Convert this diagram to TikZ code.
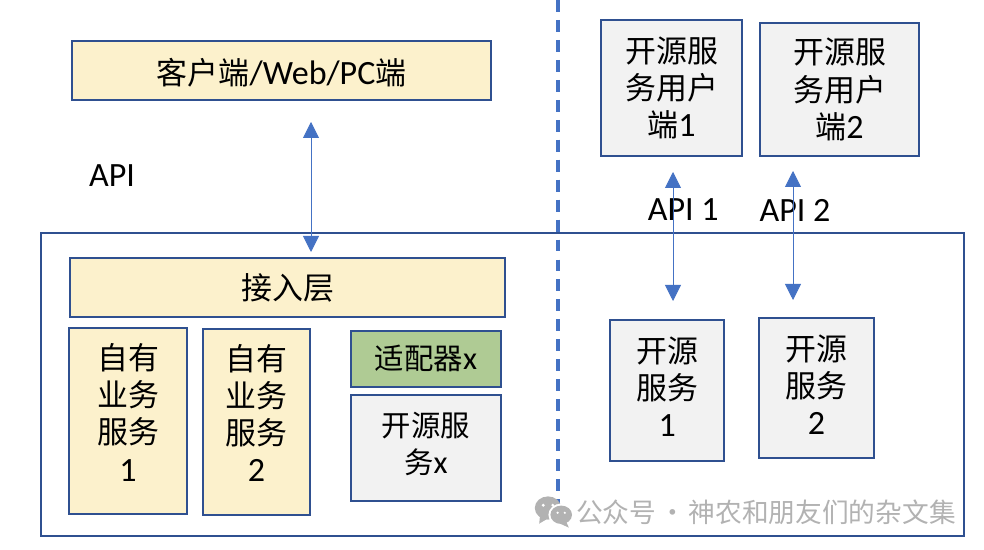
\documentclass[tikz,border=0pt]{standalone}
\usepackage{fontspec}
\setmainfont[Scale=1.1]{Carlito}
\newfontfamily\cjk{Noto Sans CJK SC}
\usepackage{tikz}
\usetikzlibrary{arrows.meta,positioning}
\definecolor{Marco}{HTML}{2F5090}
\definecolor{Azul}{HTML}{4472C4}
\definecolor{Crema}{HTML}{FCF1CC}
\definecolor{Verde}{HTML}{AFCB94}
\definecolor{Gris}{HTML}{F2F2F2}
\definecolor{Marca}{HTML}{B2B2B2}

\begin{document}
\begin{tikzpicture}[
  font=\fontsize{22}{26.5}\selectfont,
  box/.style={draw=Marco,line width=1.4pt,align=center,inner sep=0pt,outer sep=0pt},
  arr/.style={{Triangle[length=4mm,width=4mm]}-{Triangle[length=4mm,width=4mm]},line width=0.6pt,Azul},
  divider/.style={Azul,line width=2.4pt,dash pattern=on 8.5pt off 5.7pt}
]
  \useasboundingbox (0,0) rectangle (24.6,13.75);
  \fill[white] (0,0) rectangle (24.6,13.75);

  % Marco exterior y linea divisoria.
  \node[box,minimum width=23.08cm,minimum height=7.58cm] (platform) at (12.56,4.14) {};
  \coordinate (dividerTop) at (13.95,13.75);
  \coordinate (dividerEnd) at (13.95,1.125);
  \draw[divider] (dividerTop)--(dividerEnd);

  % Lado izquierdo.
  \node[box,fill=Crema,minimum width=10.48cm,minimum height=1.48cm,text height=22pt,text depth=2.5pt] (client) at (7.04,11.99)
    {{\cjk 客户端}/Web/PC{\cjk 端}};
  \node[box,fill=Crema,minimum width=10.88cm,minimum height=1.48cm] (access) at (7.19,6.56)
    {{\cjk 接入层}};
  \node[box,fill=Crema,minimum width=2.95cm,minimum height=4.65cm] (own1) at (3.20,3.22)
    {{\cjk 自有}\\{\cjk 业务}\\{\cjk 服务}\\1\\[-13.7pt]\mbox{}};
  \node[box,fill=Crema,minimum width=2.68cm,minimum height=4.65cm] (own2) at (6.41,3.20)
    {{\cjk 自有}\\{\cjk 业务}\\{\cjk 服务}\\2\\[-13.7pt]\mbox{}};
  \node[box,fill=Verde,minimum width=3.75cm,minimum height=1.40cm,font=\fontsize{20.9}{26}\selectfont] (adapter) at (10.65,4.78)
    {{\cjk 适配器}x};
  \node[box,fill=Gris,minimum width=3.75cm,minimum height=2.65cm,font=\fontsize{20.9}{26}\selectfont] (ossx) at (10.65,2.55)
    {{\cjk 开源服}\\{\cjk 务}x\\[-19pt]\mbox{}};

  % Lado derecho.
  \node[box,fill=Gris,minimum width=3.53cm,minimum height=3.40cm] (user1) at (16.79,11.55)
    {{\cjk 开源服}\\{\cjk 务用户}\\{\cjk 端}1};
  \node[box,fill=Gris,minimum width=3.98cm,minimum height=3.33cm] (user2) at (20.99,11.51)
    {{\cjk 开源服}\\{\cjk 务用户}\\{\cjk 端}2};
  \node[box,fill=Gris,minimum width=2.85cm,minimum height=3.53cm] (oss1) at (16.68,3.99)
    {{\cjk 开源}\\{\cjk 服务}\\1\\[-21.5pt]\mbox{}};
  \node[box,fill=Gris,minimum width=2.88cm,minimum height=3.50cm] (oss2) at (20.41,4.05)
    {{\cjk 开源}\\{\cjk 服务}\\2\\[-21.5pt]\mbox{}};

  \node (api) at (2.80,9.35) {API};
  \node (api1) at (17.08,8.50) {API 1};
  \node (api2) at (19.875,8.50) {API 2};

  \coordinate (clientEnd) at (7.775,10.70);
  \coordinate (accessEnd) at (7.775,7.45);
  \coordinate (user1End) at (16.825,9.45);
  \coordinate (oss1End) at (16.825,6.225);
  \coordinate (user2End) at (19.825,9.475);
  \coordinate (oss2End) at (19.825,6.25);
  \draw[arr] (clientEnd)--(accessEnd);
  \draw[arr] (user1End)--(oss1End);
  \draw[arr] (user2End)--(oss2End);

  % Marca de agua.
  \fill[Marca] (13.70,1.05) ellipse (0.33 and 0.29);
  \fill[Marca] (13.50,0.85)--(13.48,0.66)--(13.72,0.80)--cycle;
  \fill[white] (14.03,0.88) ellipse (0.32 and 0.28);
  \fill[Marca] (14.03,0.88) ellipse (0.27 and 0.23);
  \fill[Marca] (14.15,0.72)--(14.22,0.56)--(14.00,0.66)--cycle;
  \foreach \x/\y/\r in {13.58/1.12/0.04,13.82/1.12/0.04,13.94/0.93/0.03,14.12/0.93/0.03}
    {\fill[white] (\x,\y) circle (\r);}
  \node[text=Marca,font=\fontsize{19}{20}\selectfont\cjk] (mark) at (19.15,0.95)
    {公众号\hspace{-0.12em} · \hspace{-0.12em}神农和朋友们的杂文集};
\end{tikzpicture}
\end{document}
